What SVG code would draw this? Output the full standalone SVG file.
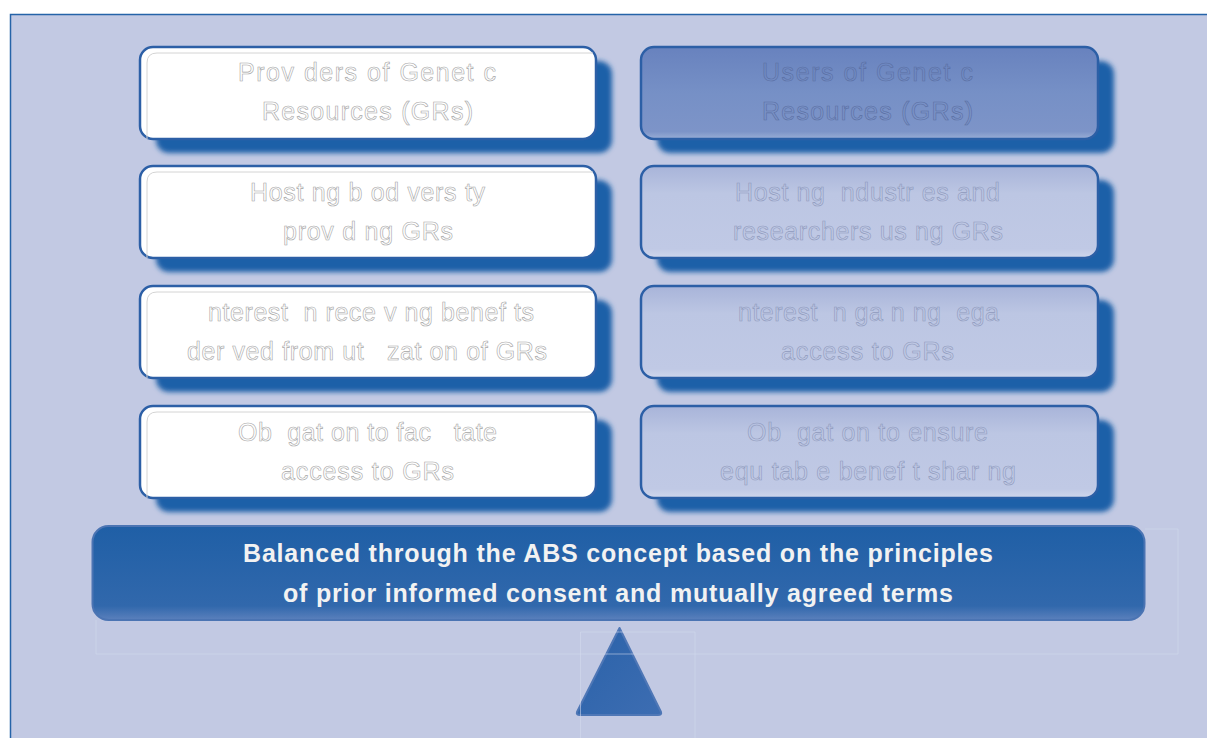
<svg xmlns="http://www.w3.org/2000/svg" width="1207" height="738" viewBox="0 0 1207 738">
<defs>
<filter id="sh" x="-10%" y="-30%" width="120%" height="160%"><feGaussianBlur stdDeviation="2.5"/></filter>
<linearGradient id="gR1" x1="0" y1="0" x2="0" y2="1"><stop offset="0" stop-color="#6882be"/><stop offset="0.5" stop-color="#7690c6"/><stop offset="0.92" stop-color="#7d94c8"/><stop offset="1" stop-color="#9aaed6"/></linearGradient>
<linearGradient id="gR2" x1="0" y1="0" x2="0" y2="1"><stop offset="0" stop-color="#a8b4d9"/><stop offset="0.3" stop-color="#bcc6e3"/><stop offset="0.9" stop-color="#c0c9e5"/><stop offset="1" stop-color="#d0d7ec"/></linearGradient>
<linearGradient id="gB" x1="0" y1="0" x2="0" y2="1"><stop offset="0" stop-color="#1f5fa6"/><stop offset="0.85" stop-color="#3168ac"/><stop offset="1" stop-color="#5b80bc"/></linearGradient>
<linearGradient id="gT" x1="0" y1="0" x2="1" y2="1"><stop offset="0" stop-color="#2a62a9"/><stop offset="1" stop-color="#3d6db2"/></linearGradient>
<style>
.bx{stroke:#2c5fa6;stroke-width:2.5}
.sd{fill:#1f60a8;filter:url(#sh)}
.wl{fill:#ffffff}
.inl{fill:none;stroke:#d4d4d4;stroke-width:1}
.t{font-family:"Liberation Sans",Arial,sans-serif;font-size:25px;stroke-width:0.6}
.tl{fill:#ffffff;stroke:#a6a6a6}
.tr1{fill:none;stroke:#5a6fa3}
.tr2{fill:none;stroke:#8f9abd}
.bt{font-family:"Liberation Sans",Arial,sans-serif;font-size:25px;font-weight:bold;fill:#f2f2f2}
.fr{fill:none;stroke:#d5dbef;stroke-width:1;opacity:0.55}
</style>
</defs>
<rect x="0" y="0" width="1207" height="738" fill="#ffffff"/>
<rect x="10.5" y="14.5" width="1300" height="800" fill="#c2c9e3" stroke="#2563a8" stroke-width="1.5"/>

<g id="connectors"/>

<g id="providers">
<rect class="sd" x="156" y="61" width="456" height="92" rx="13"/>
<rect class="bx wl" x="140" y="47" width="456" height="92" rx="13"/>
<path class="inl" d="M147 139 V63 Q147 53 157 53 H593"/>
<text class="t tl" xml:space="preserve" x="238" y="81" textLength="258" lengthAdjust="spacing">Prov ders of Genet c</text>
<text class="t tl" xml:space="preserve" x="262" y="120" textLength="211" lengthAdjust="spacing">Resources (GRs)</text>
</g>

<g id="hosting-biodiversity">
<rect class="sd" x="156" y="180" width="456" height="92" rx="13"/>
<rect class="bx wl" x="140" y="166" width="456" height="92" rx="13"/>
<path class="inl" d="M147 258 V182 Q147 172 157 172 H593"/>
<text class="t tl" xml:space="preserve" x="250" y="201" textLength="235" lengthAdjust="spacing">Host ng b od vers ty</text>
<text class="t tl" xml:space="preserve" x="283" y="240" textLength="170" lengthAdjust="spacing">prov d ng GRs</text>
</g>

<g id="interest-benefits">
<rect class="sd" x="156" y="300" width="456" height="92" rx="13"/>
<rect class="bx wl" x="140" y="286" width="456" height="92" rx="13"/>
<path class="inl" d="M147 378 V302 Q147 292 157 292 H593"/>
<text class="t tl" xml:space="preserve" x="208" y="321" textLength="326" lengthAdjust="spacing">nterest  n rece v ng benef ts</text>
<text class="t tl" xml:space="preserve" x="187" y="360" textLength="360" lengthAdjust="spacing">der ved from ut   zat on of GRs</text>
</g>

<g id="obligation-access">
<rect class="sd" x="156" y="420" width="456" height="92" rx="13"/>
<rect class="bx wl" x="140" y="406" width="456" height="92" rx="13"/>
<path class="inl" d="M147 498 V422 Q147 412 157 412 H593"/>
<text class="t tl" xml:space="preserve" x="238" y="441" textLength="259" lengthAdjust="spacing">Ob  gat on to fac   tate</text>
<text class="t tl" xml:space="preserve" x="281" y="480" textLength="173" lengthAdjust="spacing">access to GRs</text>
</g>

<g id="users">
<rect class="sd" x="657" y="61" width="457" height="92" rx="13"/>
<rect class="bx" fill="url(#gR1)" x="641" y="47" width="457" height="92" rx="13"/>
<text class="t tr1" xml:space="preserve" x="762" y="81" textLength="211" lengthAdjust="spacing">Users of Genet c</text>
<text class="t tr1" xml:space="preserve" x="762" y="120" textLength="211" lengthAdjust="spacing">Resources (GRs)</text>
</g>

<g id="hosting-industries">
<rect class="sd" x="657" y="180" width="457" height="92" rx="13"/>
<rect class="bx" fill="url(#gR2)" x="641" y="166" width="457" height="92" rx="13"/>
<text class="t tr2" xml:space="preserve" x="735" y="201" textLength="265" lengthAdjust="spacing">Host ng  ndustr es and</text>
<text class="t tr2" xml:space="preserve" x="733" y="240" textLength="270" lengthAdjust="spacing">researchers us ng GRs</text>
</g>

<g id="interest-access">
<rect class="sd" x="657" y="300" width="457" height="92" rx="13"/>
<rect class="bx" fill="url(#gR2)" x="641" y="286" width="457" height="92" rx="13"/>
<text class="t tr2" xml:space="preserve" x="738" y="321" textLength="261" lengthAdjust="spacing">nterest  n ga n ng  ega</text>
<text class="t tr2" xml:space="preserve" x="781" y="360" textLength="173" lengthAdjust="spacing">access to GRs</text>
</g>

<g id="obligation-sharing">
<rect class="sd" x="657" y="420" width="457" height="92" rx="13"/>
<rect class="bx" fill="url(#gR2)" x="641" y="406" width="457" height="92" rx="13"/>
<text class="t tr2" xml:space="preserve" x="747" y="441" textLength="241" lengthAdjust="spacing">Ob  gat on to ensure</text>
<text class="t tr2" xml:space="preserve" x="720" y="480" textLength="296" lengthAdjust="spacing">equ tab e benef t shar ng</text>
</g>

<g id="abs-concept">
<rect x="92.5" y="526" width="1052" height="94" rx="16" fill="url(#gB)" stroke="#4b74b3" stroke-width="2"/>
<text class="bt" x="618" y="562" text-anchor="middle" textLength="750" lengthAdjust="spacing">Balanced through the ABS concept based on the principles</text>
<text class="bt" x="618" y="602" text-anchor="middle" textLength="670" lengthAdjust="spacing">of prior informed consent and mutually agreed terms</text>
</g>

<g id="fulcrum">
<path d="M619.5 628 L661 712 Q662 715 658 715 L580 715 Q576 715 577 712 Z" fill="url(#gT)" stroke="#4f77b6" stroke-width="2" stroke-linejoin="round"/>
</g>

<g id="frames">
<path class="fr" d="M96 620 V654 H1178 V529 H1145"/>
<path class="fr" d="M580.5 738 V632 H695 V738"/>
</g>
</svg>
